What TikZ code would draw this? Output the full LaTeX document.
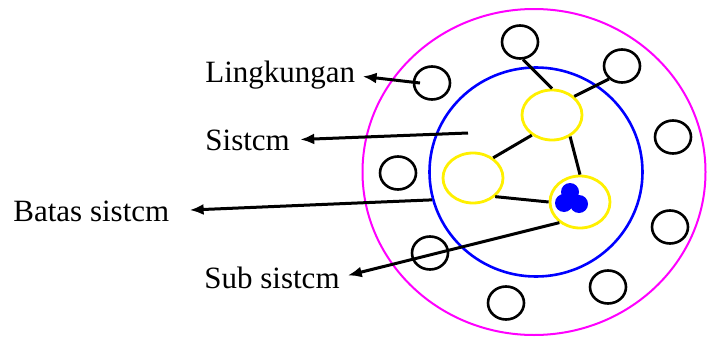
\documentclass[tikz,border=0pt]{standalone}
\usepackage{fontspec}
\setmainfont{Liberation Serif}
\usepackage{tikz}
\usetikzlibrary{shapes.geometric, arrows.meta, positioning, calc}
\definecolor{envmagenta}{RGB}{255, 0, 255}
\definecolor{sysblue}{RGB}{0, 0, 255}
\definecolor{subyellow}{RGB}{255, 240, 0}
\tikzset{
    elem/.style={ellipse, draw=black, minimum width=18pt,
                 minimum height=16.5pt, inner sep=0pt, line width=1.3pt},
    subsys/.style={ellipse, draw=subyellow, minimum width=30pt,
                   minimum height=25pt, inner sep=0pt, line width=1.4pt},
    boundary/.style={ellipse, draw=#1, inner sep=0pt},
    lbl/.style={font=\fontsize{15.5}{18}\selectfont, inner sep=0pt,
                anchor=base west},
    link/.style={line width=1.5pt, black},
    arr/.style={line width=1.5pt, -{Latex[length=7pt, width=5.5pt]}},
}
\begin{document}
\begin{tikzpicture}[x=0.5pt, y=-0.5pt]
    \useasboundingbox (0,0) rectangle (707,337);

    % Environment and system boundary
    \node[boundary=envmagenta, line width=1pt, minimum width=171.5pt,
          minimum height=163pt] (env) at (534,172) {};
    \node[boundary=sysblue, line width=1.3pt, minimum width=106.5pt,
          minimum height=104.5pt] (sys) at (536,172) {};

    % Elements of the environment
    \node[elem] (e1) at (520,42) {};
    \node[elem] (e2) at (622,66) {};
    \node[elem] (e3) at (432,83) {};
    \node[elem] (e4) at (673,137) {};
    \node[elem] (e5) at (398,173) {};
    \node[elem] (e6) at (670,227) {};
    \node[elem] (e7) at (430,253) {};
    \node[elem] (e8) at (608,287) {};
    \node[elem] (e9) at (506,303) {};

    % Subsystems
    \node[subsys] (sa) at (552,115) {};
    \node[subsys] (sb) at (473,178) {};
    \node[subsys, minimum height=26pt] (sc) at (580,202) {};
    \fill[sysblue] (570,192) circle[radius=4.5pt]
                   (564,203) circle[radius=4.5pt]
                   (579,204) circle[radius=4.5pt]
                   (572,200) circle[radius=4pt];

    % Links
    \draw[link] (e1.-80) -- (sa.north);
    \draw[link] (e2.225) -- (sa.40);
    \draw[link] (sa.225) -- (sb.45);
    \draw[link] (sa.-50) -- (sc.north);
    \draw[link] (sb.-40) -- (sc.west);

    % Labels
    \node[lbl] (ling) at (205,83) {Lingkungan};
    \node[lbl] (sis) at (205,150) {Sistcm};
    \node[lbl] (batas) at (13,221) {Batas sistcm};
    \node[lbl] (sub) at (204,288) {Sub sistcm};

    % Pointers
    \coordinate (lingsrc) at (420,83);
    \coordinate (sissrc) at (468,133);
    \draw[arr, shorten >=3.5pt] (lingsrc) -- (ling.east);
    \draw[arr, shorten >=5pt] (sissrc) -- (sis.east);
    \draw[arr, shorten >=10pt] (sys.195) -- (batas.east);
    \draw[arr, shorten >=4pt] (sc.225) -- (sub.east);
\end{tikzpicture}
\end{document}
